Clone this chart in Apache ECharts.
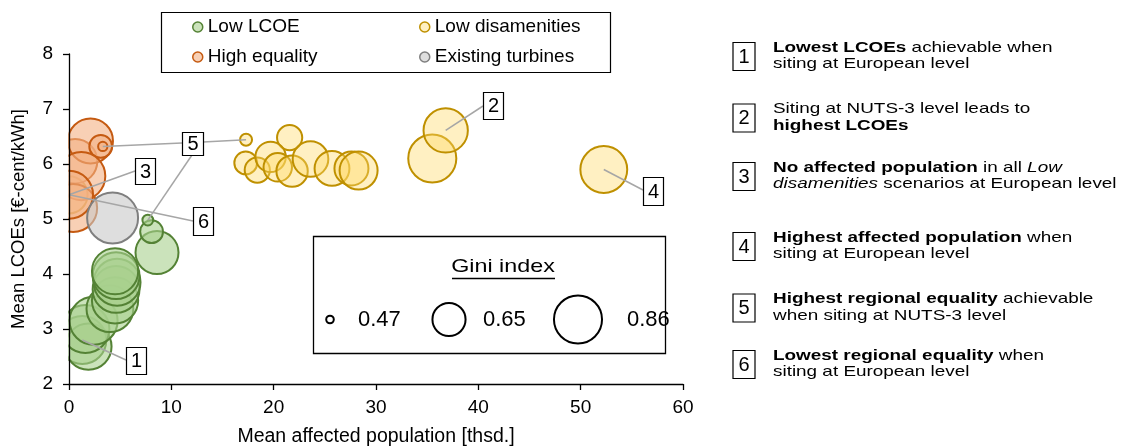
<!DOCTYPE html>
<html><head><meta charset="utf-8">
<script src="https://cdn.jsdelivr.net/npm/echarts@6/dist/echarts.min.js"></script>
<style>html,body{margin:0;padding:0;background:#fff}#c{width:1121px;height:448px}</style>
</head><body><div id="c"></div>
<script>
const FONT = '"Liberation Sans", Arial, sans-serif';

// ---- data ----
const seriesNames = ['Low LCOE', 'Low disamenities', 'High equality', 'Existing turbines'];
const xTicks = [0, 10, 20, 30, 40, 50, 60];
const yTicks = [2, 3, 4, 5, 6, 7, 8];

const lowLcoePop  = [1.3, 1.9, 1.6, 2.4, 4.0, 4.5, 4.6, 4.7, 4.6, 4.5, 8.6, 8.07, 7.7];
const lowLcoeCost = [2.8, 2.68, 3.0, 3.15, 3.37, 3.52, 3.72, 3.85, 3.97, 4.05, 4.39, 4.77, 4.98];
const lowLcoeGini = [0.86, 0.83, 0.86, 0.86, 0.84, 0.83, 0.84, 0.84, 0.84, 0.83, 0.78, 0.55, 0.48];

const lowDisPop  = [0.0, 17.3, 21.56, 17.27, 18.4, 19.7, 20.4, 21.8, 23.6, 25.7, 27.6, 28.3, 35.5, 36.81, 52.26];
const lowDisCost = [5.44, 6.44, 6.48, 6.02, 5.89, 6.13, 5.94, 5.87, 6.09, 5.92, 5.92, 5.88, 6.10, 6.61, 5.90];
const lowDisGini = [0.70, 0.485, 0.57, 0.55, 0.57, 0.62, 0.60, 0.63, 0.68, 0.67, 0.66, 0.71, 0.86, 0.80, 0.84];

const highEqPop  = [0.6, 2.1, 3.1, 3.3, 1.2, 0.4, 0.0];
const highEqCost = [6.05, 6.42, 6.32, 6.32, 5.78, 5.2, 5.44];
const highEqGini = [0.80, 0.81, 0.55, 0.475, 0.86, 0.86, 0.86];

const existPop  = [4.26];
const existCost = [5.02];
const existGini = [0.91];

const giniLegendValues = [0.47, 0.65, 0.86];

// annotation anchors (data coordinates of the marked bubbles)
const anchor1 = [1.3, 2.8];
const anchor2 = [36.81, 6.61];
const anchor3 = [0.0, 5.44];
const anchor4 = [52.26, 5.90];
const anchor5 = [[3.3, 6.32], [7.7, 4.98], [17.3, 6.44]];
const anchor6 = [0.0, 5.44];

const noteTexts = [
  '{b|Lowest LCOEs} achievable when\nsiting at European level',
  'Siting at NUTS-3 level leads to\n{b|highest LCOEs}',
  '{b|No affected population} in all {i|Low}\n{i|disamenities} scenarios at European level',
  '{b|Highest affected population} when\nsiting at European level',
  '{b|Highest regional equality} achievable\nwhen siting at NUTS-3 level',
  '{b|Lowest regional equality} when\nsiting at European level'
];

// ---- styling ----
const sizeOf = g => 76 * Math.sqrt(Math.max(g - 0.46, 0.0001));
const seriesStyle = [
  { color: 'rgba(169,209,142,0.6)', borderColor: '#548235' },
  { color: 'rgba(255,217,102,0.4)', borderColor: '#bf9000' },
  { color: 'rgba(244,177,131,0.6)', borderColor: '#c55a11' },
  { color: 'rgba(200,200,200,0.6)', borderColor: '#7f7f7f' }
];
const seriesData = [
  [lowLcoePop, lowLcoeCost, lowLcoeGini],
  [lowDisPop, lowDisCost, lowDisGini],
  [highEqPop, highEqCost, highEqGini],
  [existPop, existCost, existGini]
];
const pts = (xs, ys, gs) => xs.map((x, i) => [x, ys[i], gs[i]]);

const chart = echarts.init(document.getElementById('c'), null, { renderer: 'canvas' });

const legendCommon = {
  orient: 'vertical', top: 12, padding: 5,
  itemWidth: 10, itemHeight: 10, itemGap: 10, icon: 'circle', selectedMode: false,
  textStyle: { fontSize: 19, fontFamily: FONT, color: '#000', lineHeight: 20 },
  itemStyle: { borderWidth: 1.5 }
};

const option = {
  animation: false,
  backgroundColor: '#fff',
  grid: { left: 69, right: 438, top: 54, bottom: 64, outerBoundsMode: 'none', containLabel: false },
  legend: [
    Object.assign({ data: [seriesNames[0], seriesNames[2]], left: 187 }, legendCommon),
    Object.assign({ data: [seriesNames[1], seriesNames[3]], left: 414 }, legendCommon)
  ],
  xAxis: {
    type: 'value', min: xTicks[0], max: xTicks[xTicks.length - 1], interval: xTicks[1] - xTicks[0], z: 200,
    name: 'Mean affected population [thsd.]', nameLocation: 'middle', nameGap: 43,
    nameTextStyle: { fontSize: 19.5, fontFamily: FONT, color: '#000' },
    axisLine: { show: true, onZero: false, lineStyle: { color: '#000', width: 1.3 } },
    axisTick: { show: true, inside: false, length: 6, lineStyle: { color: '#000', width: 1.3 } },
    axisLabel: { fontSize: 19, fontFamily: FONT, color: '#000', margin: 14 },
    splitLine: { show: false }
  },
  yAxis: {
    type: 'value', min: yTicks[0], max: yTicks[yTicks.length - 1], interval: yTicks[1] - yTicks[0], z: 200,
    name: 'Mean LCOEs [€-cent/kWh]', nameLocation: 'middle', nameGap: 41,
    nameTextStyle: { fontSize: 18.5, fontFamily: FONT, color: '#000' },
    axisLine: { show: true, onZero: false, lineStyle: { color: '#000', width: 1.3 } },
    axisTick: { show: true, inside: false, length: 6, lineStyle: { color: '#000', width: 1.3 } },
    axisLabel: { fontSize: 19, fontFamily: FONT, color: '#000', margin: 16 },
    splitLine: { show: false }
  },
  series: seriesNames.map((name, k) => ({
    name, type: 'scatter', silent: true, clip: false,
    data: pts(seriesData[k][0], seriesData[k][1], seriesData[k][2]),
    symbol: 'circle', symbolSize: v => sizeOf(v[2]),
    itemStyle: { color: seriesStyle[k].color, borderColor: seriesStyle[k].borderColor, borderWidth: 2, opacity: 1 },
    emphasis: { disabled: true },
    z: 2
  }))
};
chart.setOption(option);

// ---- annotations & decorations ----
const px = p => chart.convertToPixel({ gridIndex: 0 }, p);
const LINE = { stroke: '#a6a6a6', lineWidth: 1.5 };
const g = [];
// white mask left of the y axis (plot-area clipping like the original)
g.push({ type: 'rect', z: 100, silent: true, shape: { x: 0, y: 0, width: 68.4, height: 448 }, style: { fill: '#fff' } });

// legend frame
g.push({ type: 'rect', z: 1, silent: true, shape: { x: 161.5, y: 12.5, width: 449, height: 60 }, style: { fill: 'none', stroke: '#000', lineWidth: 1.2 } });

// Gini box
g.push({ type: 'rect', z: 150, silent: true, shape: { x: 313.5, y: 236.5, width: 352, height: 117 }, style: { fill: '#fff', stroke: '#000', lineWidth: 1.3 } });
g.push({ type: 'text', z: 160, silent: true, x: 503, y: 267, scaleX: 1.26,
  style: { text: 'Gini index', fontSize: 18.5, fontFamily: FONT, fill: '#000', align: 'center', verticalAlign: 'middle' } });
g.push({ type: 'line', z: 160, silent: true, shape: { x1: 452, y1: 278.5, x2: 555, y2: 278.5 }, style: { stroke: '#000', lineWidth: 1.5 } });
const giniCx = [330, 449, 578];
const giniTx = [358, 483, 627];
giniLegendValues.forEach((v, i) => {
  g.push({ type: 'circle', z: 160, silent: true, shape: { cx: giniCx[i], cy: 319.5, r: sizeOf(v) / 2 }, style: { fill: 'none', stroke: '#000', lineWidth: 2 } });
  g.push({ type: 'text', z: 160, silent: true, x: giniTx[i], y: 320,
    style: { text: v.toFixed(2), fontSize: 22, fontFamily: FONT, fill: '#000', align: 'left', verticalAlign: 'middle' } });
});

// numbered boxes inside the plot
function numBox(n, x, y, w, h) {
  g.push({ type: 'rect', z: 170, silent: true, shape: { x: x + 0.5, y: y + 0.5, width: w, height: h }, style: { fill: '#fff', stroke: '#000', lineWidth: 1.2 } });
  g.push({ type: 'text', z: 171, silent: true, x: x + w / 2 + 0.5, y: y + h / 2 + 1,
    style: { text: n, fontSize: 20, fontFamily: FONT, fill: '#000', align: 'center', verticalAlign: 'middle' } });
}
function leader(a, x2, y2) {
  const p = px(a);
  g.push({ type: 'line', z: 165, silent: true, shape: { x1: p[0], y1: p[1], x2, y2 }, style: LINE });
}
leader(anchor1, 126, 360); numBox('1', 126, 347, 20, 27);
leader(anchor2, 483, 106); numBox('2', 483, 92, 20, 27);
leader(anchor3, 135, 171); numBox('3', 135, 158, 20, 26);
leader(anchor4, 643, 190); numBox('4', 643, 177, 20, 28);
leader(anchor5[0], 182, 143); leader(anchor5[1], 192, 155); leader(anchor5[2], 203, 142); numBox('5', 182, 132, 21, 23);
leader(anchor6, 193, 221); numBox('6', 193, 207, 20, 28);

// explanation list on the right
const noteY = [56, 117.5, 176, 246, 307.5, 364];
const rich = {
  b: { fontSize: 15, fontFamily: FONT, fontWeight: 'bold', fill: '#000', lineHeight: 16.5 },
  i: { fontSize: 15, fontFamily: FONT, fontStyle: 'italic', fill: '#000', lineHeight: 16.5 }
};
noteTexts.forEach((t, i) => {
  numBox(String(i + 1), 732.5, noteY[i] - 14, 22, 28);
  g.push({ type: 'text', z: 171, silent: true, x: 773, y: noteY[i], scaleX: 1.26,
    style: { text: t, rich, fontSize: 15, fontFamily: FONT, fill: '#000', lineHeight: 16.5, align: 'left', verticalAlign: 'middle' } });
});

chart.setOption({ graphic: { elements: g } });
</script>
</body></html>
